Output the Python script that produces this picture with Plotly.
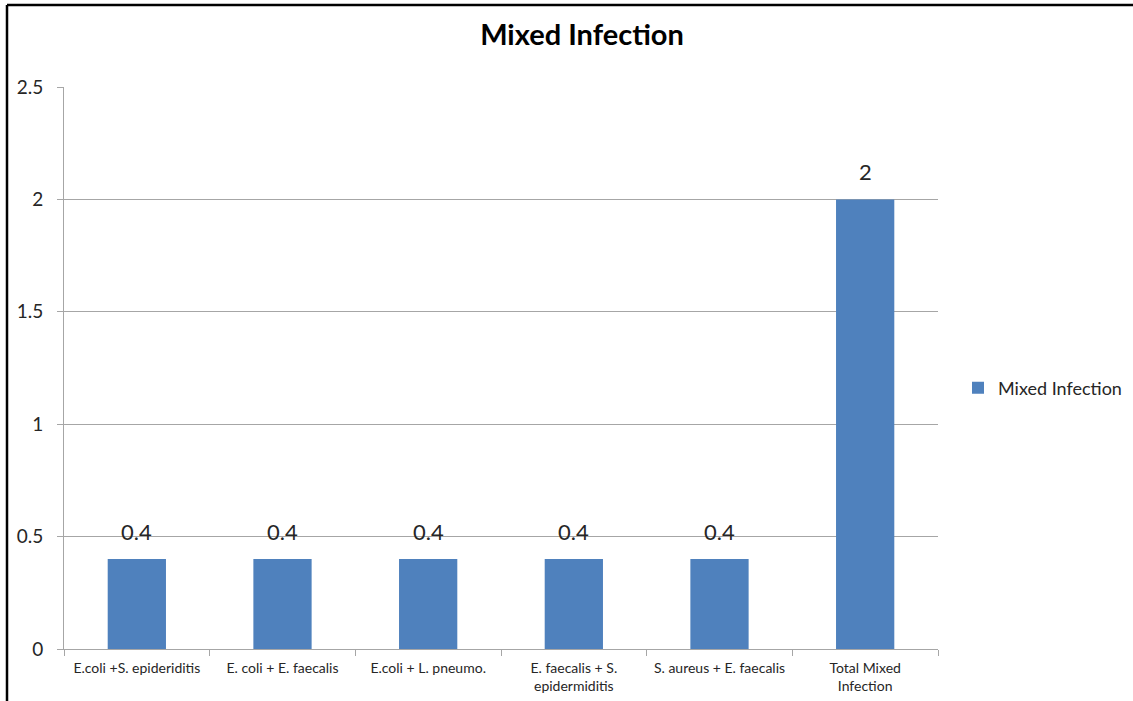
import plotly.graph_objects as go

# Mixed infection proportions per organism combination
categories = [
    "E.coli +S. epideriditis",
    "E. coli + E. faecalis",
    "E.coli + L. pneumo.",
    "E. faecalis + S.<br>epidermiditis",
    "S. aureus + E. faecalis",
    "Total Mixed<br>Infection",
]
values = [0.4, 0.4, 0.4, 0.4, 0.4, 2]
value_labels = ["0.4", "0.4", "0.4", "0.4", "0.4", "2"]
y_ticks = [0, 0.5, 1, 1.5, 2, 2.5]
y_tick_text = ["0", "0.5", "1", "1.5", "2", "2.5"]

FONT = "Lato, 'Open Sans', Arial, sans-serif"
BAR_COLOR = "#4F81BD"
GRID = "#A6A6A6"

W, H = 1133, 701
L, R, T, B = 64, 195, 87, 52
pw, ph = W - L - R, H - T - B

fig = go.Figure()
fig.add_trace(go.Bar(
    x=categories,
    y=values,
    name="Mixed Infection",
    marker=dict(color=BAR_COLOR, line=dict(width=0)),
    width=0.4,
    showlegend=True,
))

# value labels above each bar
for c, v, t in zip(categories, values, value_labels):
    fig.add_annotation(
        x=c, y=v, text=t, showarrow=False,
        yanchor="bottom", yshift=12,
        font=dict(family=FONT, size=22, color="#262626"),
    )

# outer chart frame (top and left edges)
fx0 = -(L - 7) / pw
fy_top = 1 + (T - 5) / ph
fy_bot = -(B + 5) / ph
fx1 = (W - L + 5) / pw
fig.add_shape(type="line", xref="paper", yref="paper",
              x0=fx0, x1=fx1, y0=fy_top, y1=fy_top,
              line=dict(color="black", width=2.5))
fig.add_shape(type="line", xref="paper", yref="paper",
              x0=fx0, x1=fx0, y0=fy_bot, y1=fy_top,
              line=dict(color="black", width=2.5))

fig.update_layout(
    width=W, height=H,
    margin=dict(l=L, r=R, t=T, b=B, autoexpand=False),
    paper_bgcolor="white",
    plot_bgcolor="white",
    title=dict(
        text="<b>Mixed Infection</b>",
        x=582 / W, xanchor="center",
        y=1 - 35 / H, yanchor="middle",
        font=dict(family=FONT, size=29, color="black"),
    ),
    bargap=0.6,
    legend=dict(
        x=(958 - L) / pw, xanchor="left",
        y=(649 - 388) / ph, yanchor="middle",
        font=dict(family=FONT, size=18, color="#262626"),
        bgcolor="rgba(0,0,0,0)",
        itemwidth=30,
    ),
    xaxis=dict(
        type="category",
        showgrid=False,
        showline=True, linecolor=GRID, linewidth=1,
        ticks="outside", tickson="boundaries", ticklen=6, tickcolor=GRID,
        tickfont=dict(family=FONT, size=14, color="#262626"),
        ticklabelstandoff=6,
        zeroline=False,
    ),
    yaxis=dict(
        range=[0, 2.5],
        tickvals=y_ticks, ticktext=y_tick_text,
        showgrid=True, gridcolor=GRID, gridwidth=1,
        showline=True, linecolor=GRID, linewidth=1,
        ticks="outside", ticklen=6, tickcolor=GRID,
        tickfont=dict(family=FONT, size=19, color="#262626"),
        ticklabelstandoff=10,
        zeroline=False,
    ),
)

fig.write_html("out.html")
